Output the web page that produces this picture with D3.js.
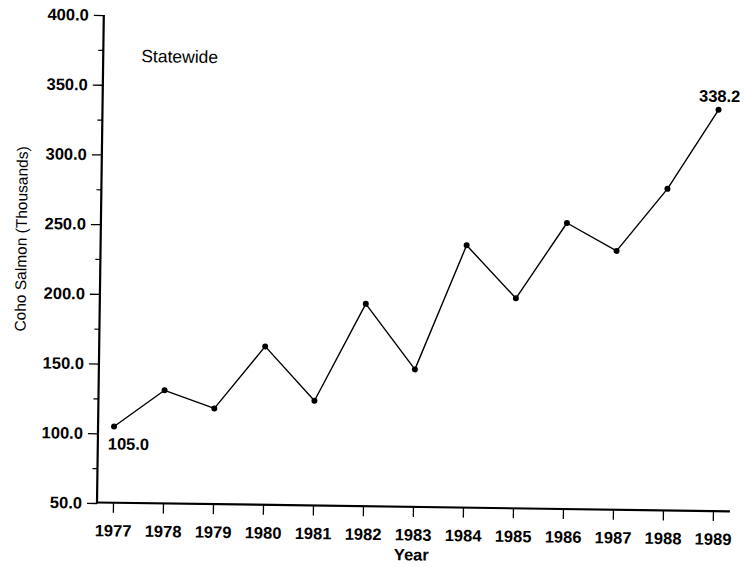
<!DOCTYPE html>
<html>
<head>
<meta charset="utf-8">
<script src="https://cdn.jsdelivr.net/npm/d3@7"></script>
<style>
  html, body { margin: 0; padding: 0; background: #fff; }
  svg { display: block; }
  text { font-family: "Liberation Sans", Arial, Helvetica, sans-serif; fill: #000; }
</style>
</head>
<body>
<svg id="chart" width="744" height="567"></svg>
<script>
// ---- data ----
const years = [1977, 1978, 1979, 1980, 1981, 1982, 1983, 1984, 1985, 1986, 1987, 1988, 1989];
const cohoThousands = [105.0, 131.5, 119.0, 164.0, 125.5, 195.5, 149.0, 238.5, 201.0, 255.5, 236.0, 281.0, 338.2];
const yMajorTicks = [50, 100, 150, 200, 250, 300, 350, 400];
const yMinorTicks = [75, 125, 175, 225, 275, 325, 375];
const labelledPoints = [
  { year: 1977, text: "105.0", pos: "below" },
  { year: 1989, text: "338.2", pos: "above" }
];
const panelTitle = "Statewide";
const xTitle = "Year";
const yTitle = "Coho Salmon (Thousands)";

// ---- layout ----
const W = 744, H = 567;
const originX = 97, originY = 502.5;   // axis corner
const xAxisEnd = 730;
const svg = d3.select("#chart");

// slight rotation to mimic the scanned original
const g = svg.append("g").attr("transform", `rotate(0.8, ${originX}, ${originY})`);

const x = d3.scaleLinear().domain([1977, 1989]).range([113, 713]);
const y = d3.scaleLinear().domain([50, 400]).range([originY + 0.5, 15]);

// y axis minor ticks
g.append("g")
  .attr("transform", `translate(${originX},0)`)
  .call(d3.axisLeft(y).tickValues(yMinorTicks).tickSize(5).tickSizeOuter(0).tickFormat(""))
  .call(a => a.select(".domain").remove())
  .call(a => a.selectAll("line").attr("stroke", "#000").attr("stroke-width", 1.2));

// y axis major ticks + labels
g.append("g")
  .attr("transform", `translate(${originX},0)`)
  .call(d3.axisLeft(y).tickValues(yMajorTicks).tickSize(10).tickPadding(5).tickSizeOuter(0).tickFormat(d3.format(".1f")))
  .call(a => a.select(".domain").remove())
  .call(a => a.selectAll("line").attr("stroke", "#000").attr("stroke-width", 1.3))
  .call(a => a.selectAll("text")
      .attr("font-size", "16.5px").attr("font-weight", "bold")
      .attr("font-family", "'Liberation Sans', Arial, sans-serif").attr("fill", "#000"));

// x axis ticks + labels
g.append("g")
  .attr("transform", `translate(0,${originY})`)
  .call(d3.axisBottom(x).tickValues(years).tickSize(10).tickPadding(12).tickSizeOuter(0).tickFormat(d3.format("d")))
  .call(a => a.select(".domain").remove())
  .call(a => a.selectAll("line").attr("stroke", "#000").attr("stroke-width", 1.3))
  .call(a => a.selectAll("text")
      .attr("font-size", "16.5px").attr("font-weight", "bold")
      .attr("font-family", "'Liberation Sans', Arial, sans-serif").attr("fill", "#000"));

// axis lines
g.append("line")
  .attr("x1", originX).attr("x2", originX)
  .attr("y1", originY + 1).attr("y2", y(400))
  .attr("stroke", "#000").attr("stroke-width", 2.2);
g.append("line")
  .attr("x1", originX - 1).attr("x2", xAxisEnd)
  .attr("y1", originY).attr("y2", originY)
  .attr("stroke", "#000").attr("stroke-width", 2.2);

// data line
const data = years.map((yr, i) => ({ year: yr, value: cohoThousands[i] }));
g.append("path")
  .datum(data)
  .attr("fill", "none")
  .attr("stroke", "#000")
  .attr("stroke-width", 1.4)
  .attr("stroke-linejoin", "round")
  .attr("d", d3.line().x(d => x(d.year)).y(d => y(d.value)));

g.selectAll("circle.pt")
  .data(data)
  .join("circle")
  .attr("class", "pt")
  .attr("cx", d => x(d.year))
  .attr("cy", d => y(d.value))
  .attr("r", 3)
  .attr("fill", "#000");

// value labels
labelledPoints.forEach(lp => {
  const v = cohoThousands[years.indexOf(lp.year)];
  const t = g.append("text")
    .attr("font-size", "16.5px").attr("font-weight", "bold")
    .text(lp.text);
  if (lp.pos === "below") {
    t.attr("x", x(lp.year) - 6).attr("y", y(v) + 23).attr("text-anchor", "start");
  } else {
    t.attr("x", x(lp.year) + 1).attr("y", y(v) - 8).attr("text-anchor", "middle");
  }
});

// panel title
g.append("text")
  .attr("x", 135).attr("y", 61.5)
  .attr("font-size", "17.5px")
  .text(panelTitle);

// axis titles
g.append("text")
  .attr("x", 412).attr("y", 556)
  .attr("text-anchor", "middle")
  .attr("font-size", "16.5px").attr("font-weight", "bold")
  .text(xTitle);

g.append("text")
  .attr("transform", `translate(23,240) rotate(-90)`)
  .attr("text-anchor", "middle")
  .attr("font-size", "15.5px")
  .text(yTitle);
</script>
</body>
</html>
